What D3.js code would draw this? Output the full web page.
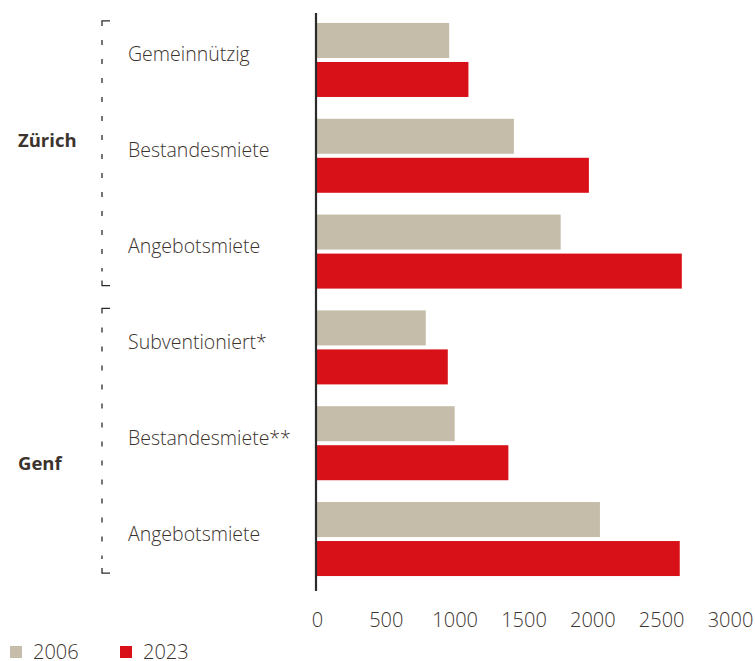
<!DOCTYPE html>
<html>
<head>
<meta charset="utf-8">
<script src="https://cdn.jsdelivr.net/npm/d3@7"></script>
<style>
  html, body { margin: 0; padding: 0; background: #fff; }
  svg { display: block; font-family: "Open Sans", "Noto Sans", sans-serif; }
</style>
</head>
<body>
<svg id="chart" width="755" height="661"></svg>
<script>
// Monthly rents (CHF) by city and rent type
const cities = ["Zürich", "Zürich", "Zürich", "Genf", "Genf", "Genf"];
const categories = ["Gemeinnützig", "Bestandesmiete", "Angebotsmiete",
                    "Subventioniert*", "Bestandesmiete**", "Angebotsmiete"];
const years = ["2006", "2023"];
const values2006 = [960, 1430, 1770, 790, 1000, 2055];
const values2023 = [1100, 1975, 2650, 950, 1390, 2635];
const tickValues = [0, 500, 1000, 1500, 2000, 2500, 3000];

const colors = { "2006": "#c5bca9", "2023": "#d81118" };
const textColor = "#3b332e";

const rows = categories.map((c, i) => ({
  key: cities[i] + "|" + c,
  city: cities[i],
  label: c,
  "2006": values2006[i],
  "2023": values2023[i]
}));

const svg = d3.select("#chart");

const x = d3.scaleLinear().domain([0, 3000]).range([317, 730]);

const y = d3.scaleBand()
  .domain(rows.map(d => d.key))
  .range([13, 586])
  .paddingInner(0.2276)
  .paddingOuter(0.104);

const ySub = d3.scaleBand()
  .domain(years)
  .range([0, y.bandwidth()])
  .paddingInner(0.1026);

// Bars
const groups = svg.append("g").selectAll("g")
  .data(rows)
  .join("g")
  .attr("transform", d => `translate(0,${y(d.key)})`);

groups.selectAll("rect")
  .data(d => years.map(yr => ({ year: yr, value: d[yr] })))
  .join("rect")
  .attr("x", x(0))
  .attr("y", d => ySub(d.year))
  .attr("width", d => x(d.value) - x(0))
  .attr("height", ySub.bandwidth())
  .attr("fill", d => colors[d.year]);

// Vertical baseline
svg.append("line")
  .attr("x1", x(0) - 1).attr("x2", x(0) - 1)
  .attr("y1", 13).attr("y2", 591)
  .attr("stroke", "#2b2b2b")
  .attr("stroke-width", 2.2);

// Category labels
svg.append("g").selectAll("text")
  .data(rows)
  .join("text")
  .attr("x", 128)
  .attr("y", d => y(d.key) + y.bandwidth() / 2 + 1.5)
  .attr("fill", textColor)
  .attr("font-size", 19.5)
  .attr("font-weight", 300)
  .text(d => d.label);

// City brackets and labels
const cityNames = Array.from(new Set(cities));
const cityLabelOffset = { "Zürich": -9, "Genf": 27 };
cityNames.forEach(city => {
  const keys = rows.filter(r => r.city === city).map(r => r.key);
  const top = y(keys[0]) - 2;
  const bottom = y(keys[keys.length - 1]) + y.bandwidth() - 3;
  const bx = 102;
  const g = svg.append("g")
    .attr("stroke", "#2b2b2b")
    .attr("stroke-width", 1.3)
    .attr("fill", "none");
  g.append("path").attr("d", `M${bx + 8},${top}H${bx}V${top + 5}`);
  g.append("path").attr("d", `M${bx + 8},${bottom}H${bx}V${bottom - 5}`);
  g.append("line")
    .attr("x1", bx).attr("x2", bx)
    .attr("y1", top + 19).attr("y2", bottom - 14)
    .attr("stroke-dasharray", "5,14");

  const mid = y(keys[1]) + y.bandwidth() / 2;
  svg.append("text")
    .attr("x", 18)
    .attr("y", mid + cityLabelOffset[city])
    .attr("fill", textColor)
    .attr("font-size", 18.5)
    .attr("font-weight", 700)
    .text(city);
});

// Value axis
const xAxis = d3.axisBottom(x)
  .tickValues(tickValues)
  .tickSize(0)
  .tickPadding(22)
  .tickFormat(d3.format("d"));

const axisG = svg.append("g")
  .attr("transform", "translate(0,591)")
  .call(xAxis);
axisG.select(".domain").remove();
axisG.selectAll("text")
  .attr("fill", textColor)
  .attr("font-size", 20)
  .attr("font-weight", 300)
  .style("font-family", "'Open Sans', 'Noto Sans', sans-serif");

// Legend
const legendX = [10, 120];
const legend = svg.append("g").selectAll("g")
  .data(years)
  .join("g")
  .attr("transform", (d, i) => `translate(${legendX[i]},646)`);
legend.append("rect")
  .attr("width", 12).attr("height", 12)
  .attr("fill", d => colors[d]);
legend.append("text")
  .attr("x", 23 - (0))
  .attr("y", 13)
  .attr("fill", textColor)
  .attr("font-size", 20)
  .attr("font-weight", 300)
  .text(d => d);
</script>
</body>
</html>
